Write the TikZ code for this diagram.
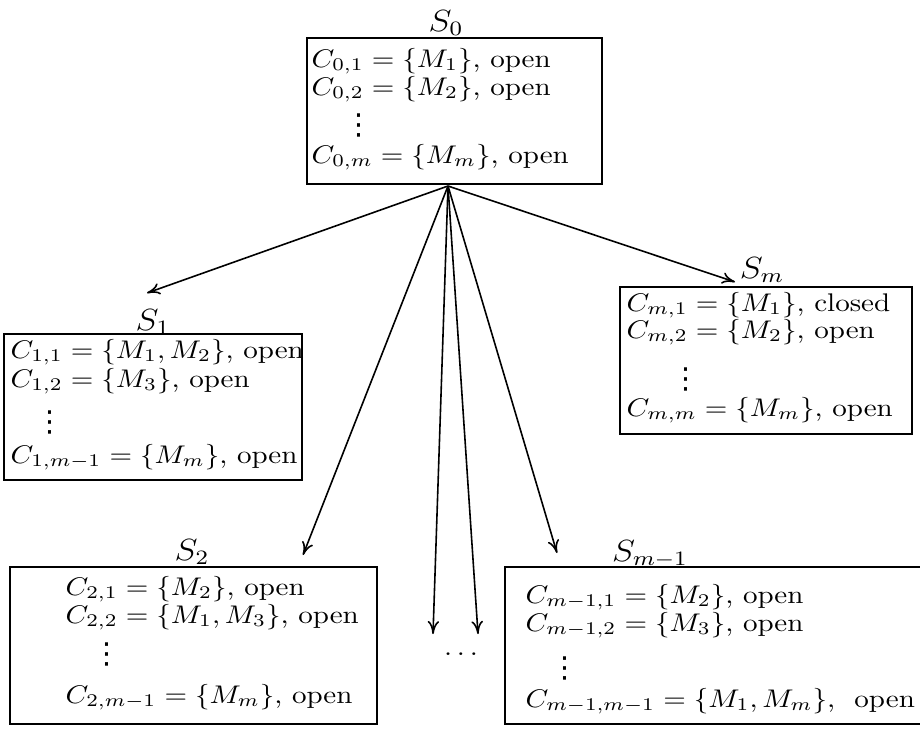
\documentclass[tikz,border=0pt]{standalone}
\usepackage{graphicx}
\usepackage{fontspec}
\newfontfamily\djv{DejaVu Sans}
\usetikzlibrary{arrows.meta,fit}
\newcommand{\sqz}[1]{\scalebox{1}[0.88]{#1}}
\newcommand{\myvdots}{{\djv\fontsize{10}{10}\selectfont ⋮}}
\begin{document}
\begin{tikzpicture}[x=0.3448pt,y=-0.3448pt,
  box/.style={draw, line width=0.6pt, inner sep=0pt},
  lbl/.style={anchor=base, inner sep=0pt, font=\large},
  txt/.style={anchor=base west, inner sep=0pt},
  vd/.style={anchor=base, inner sep=0pt},
  arr/.style={line width=0.55pt, -{To[length=4.5pt,width=4pt]}}]
\useasboundingbox (0,0) rectangle (920,728);

% S0
\node[box, fit={(307,38) (602,184)}] (b0) {};
\node[lbl] (l0) at (446,31) {\sqz{$S_0$}};
\node[txt] (t01) at (311,67) {\sqz{$C_{0,1}=\{M_1\}$, open}};
\node[txt] (t02) at (311,95) {\sqz{$C_{0,2}=\{M_2\}$, open}};
\node[vd]  (v0)  at (359,134) {\myvdots};
\node[txt] (t04) at (311,163) {\sqz{$C_{0,m}=\{M_m\}$, open}};

% S1
\node[box, fit={(4,334) (302,480)}] (b1) {};
\node[lbl] (l1) at (153,330) {\sqz{$S_1$}};
\node[txt] (t11) at (10,358) {\sqz{$C_{1,1}=\{M_1,M_2\}$, open}};
\node[txt] (t12) at (10,387) {\sqz{$C_{1,2}=\{M_3\}$, open}};
\node[vd]  (v1)  at (50,431) {\myvdots};
\node[txt] (t14) at (10,463) {\sqz{$C_{1,m-1}=\{M_m\}$, open}};

% Sm
\node[box, fit={(620,287) (912,434)}] (bm) {};
\node[lbl] (lm) at (762,278) {\sqz{$S_m$}};
\node[txt] (tm1) at (626,311) {\sqz{$C_{m,1}=\{M_1\}$, closed}};
\node[txt] (tm2) at (626,338) {\sqz{$C_{m,2}=\{M_2\}$, open}};
\node[vd]  (vm)  at (686,388) {\myvdots};
\node[txt] (tm4) at (626,416) {\sqz{$C_{m,m}=\{M_m\}$, open}};

% S2
\node[box, fit={(10,567) (377,724)}] (b2) {};
\node[lbl] (l2) at (192,560) {\sqz{$S_2$}};
\node[txt] (t21) at (65,595) {\sqz{$C_{2,1}=\{M_2\}$, open}};
\node[txt] (t22) at (65,623) {\sqz{$C_{2,2}=\{M_1,M_3\}$, open}};
\node[vd]  (v2)  at (107,663) {\myvdots};
\node[txt] (t24) at (65,703) {\sqz{$C_{2,m-1}=\{M_m\}$, open}};

% Sm-1
\node[box, fit={(505,567) (923,724)}] (bn) {};
\node[lbl] (ln) at (650,561) {\sqz{$S_{m-1}$}};
\node[txt] (tn1) at (525,603) {\sqz{$C_{m-1,1}=\{M_2\}$, open}};
\node[txt] (tn2) at (525,631) {\sqz{$C_{m-1,2}=\{M_3\}$, open}};
\node[vd]  (vn)  at (565,677) {\myvdots};
\node[txt] (tn4) at (525,707) {\sqz{$C_{m-1,m-1}=\{M_1,M_m\}$,\ \ open}};

% middle dots
\node[anchor=base, inner sep=0pt] (dots) at (461,655) {\sqz{$\ldots$}};

% arrows
\coordinate (src) at (448,186);
\coordinate (e1) at (147,293);
\coordinate (em) at (735,282);
\coordinate (e2) at (303,555);
\coordinate (ea) at (433,634);
\coordinate (eb) at (478,634);
\coordinate (en) at (557,553);
\draw[arr] (src) -- (e1);
\draw[arr] (src) -- (em);
\draw[arr] (src) -- (e2);
\draw[arr] (src) -- (ea);
\draw[arr] (src) -- (eb);
\draw[arr] (src) -- (en);
\end{tikzpicture}
\end{document}
